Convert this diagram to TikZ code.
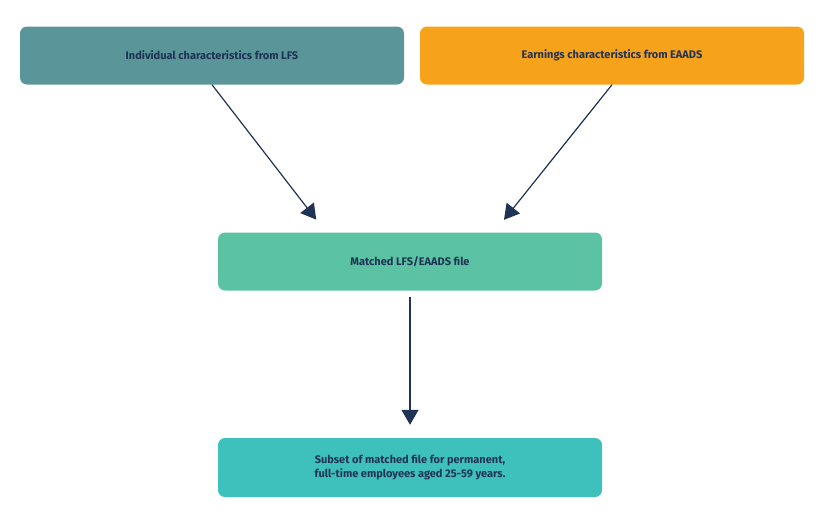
\documentclass[tikz,border=0pt]{standalone}
\usepackage{fontspec}
\setmainfont{Fira Sans}
\usetikzlibrary{arrows.meta,positioning}
\definecolor{navy}{HTML}{1F3354}
\definecolor{lfsteal}{HTML}{5A9599}
\definecolor{eaorange}{HTML}{F7A21B}
\definecolor{matchgreen}{HTML}{5BC2A3}
\definecolor{subteal}{HTML}{3EC1BD}
\tikzset{
  boxStyle/.style = {rounded corners=7pt, minimum width=384pt, minimum height=58pt,
    text=navy, font=\fontsize{11}{14}\selectfont\bfseries, align=center, inner sep=0pt},
  arrowStyle/.style = {draw=navy, line width=1.2pt, -{Triangle[width=17pt,length=15pt]}}
}
\begin{document}
\begin{tikzpicture}[x=1pt, y=-1pt]
\useasboundingbox (0,0) rectangle (824,523);
\node[boxStyle, fill=lfsteal] (lfs) at (212,55.5) {Individual characteristics from LFS};
\node[boxStyle, fill=eaorange] (eaads) at (612,55.5) {Earnings characteristics from EAADS};
\node[boxStyle, fill=matchgreen] (match) at (410,261.5) {Matched LFS/EAADS file};
\node[boxStyle, fill=subteal, minimum height=59pt] (subset) at (410,467.5) {Subset of matched file for permanent,\\full-time employees aged 25-59 years.};
\draw[arrowStyle, shorten >=16pt] (lfs.south) -- ([xshift=-84pt]match.north);
\draw[arrowStyle, shorten >=16pt] (eaads.south) -- ([xshift=84pt]match.north);
\draw[arrowStyle, shorten <=6pt, shorten >=13pt] (match.south) -- (subset.north);
\end{tikzpicture}
\end{document}
